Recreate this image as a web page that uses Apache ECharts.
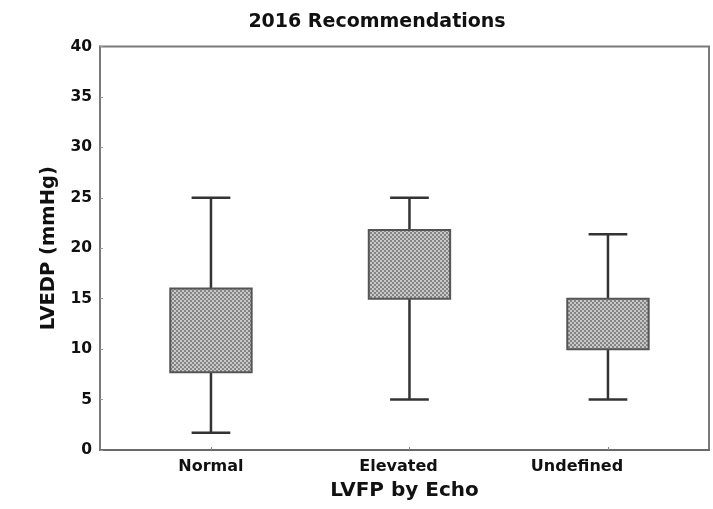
<!DOCTYPE html>
<html>
<head>
<meta charset="utf-8">
<script src="https://cdn.jsdelivr.net/npm/echarts@6/dist/echarts.min.js"></script>
<style>html,body{margin:0;padding:0;background:#fff}#c{width:713px;height:509px}</style>
</head>
<body>
<div id="c"></div>
<script>
// ---- data ----
const categories = ['Normal', 'Elevated', 'Undefined'];
const categoryPos = [1, 2, 3];
const whiskerLow = [1.7, 5, 5];
const q1 = [7.7, 15, 10];
const q3 = [16, 21.8, 15];
const whiskerHigh = [25, 25, 21.4];
const yTicks = [0, 5, 10, 15, 20, 25, 30, 35, 40];

// ---- style ----
const BOX_W = 0.41;   // in x-axis units
const CAP_W = 0.195;
const FONT = 'DejaVu Sans, Verdana, sans-serif';
const labelShiftPad = [0, 22, 62]; // right padding per label (shifts centered label left)

function makePattern() {
  const cv = document.createElement('canvas');
  cv.width = 4; cv.height = 4;
  const g = cv.getContext('2d');
  g.fillStyle = '#848484'; g.fillRect(0, 0, 4, 4);
  g.fillStyle = '#c8c8c8';
  g.fillRect(0, 0, 2, 2); g.fillRect(2, 2, 2, 2);
  return cv;
}
const pattern = { image: makePattern(), repeat: 'repeat' };

const data = categories.map((c, i) => [categoryPos[i], whiskerLow[i], q1[i], q3[i], whiskerHigh[i]]);

const rich = {};
categories.forEach((c, i) => {
  rich['c' + i] = { fontFamily: FONT, fontWeight: 'bold', fontSize: 16, color: '#111', padding: [0, labelShiftPad[i], 0, 0] };
});

const chart = echarts.init(document.getElementById('c'), null, { renderer: 'canvas' });
chart.setOption({
  animation: false,
  backgroundColor: '#fff',
  title: {
    text: '2016 Recommendations', left: 372, top: 8, textAlign: 'center',
    textStyle: { fontFamily: FONT, fontWeight: 'bold', fontSize: 19, color: '#111' }
  },
  grid: { left: 100, right: 4, top: 46.5, bottom: 59, show: true, borderColor: '#7a7a7a', borderWidth: 2 },
  xAxis: {
    type: 'value', min: 0.441, max: 3.509,
    name: 'LVFP by Echo', nameLocation: 'middle', nameGap: 31,
    nameTextStyle: { fontFamily: FONT, fontWeight: 'bold', fontSize: 20, color: '#111' },
    splitLine: { show: false },
    axisLine: { show: true, onZero: false, lineStyle: { color: '#6a6a6a', width: 2 } },
    axisTick: { show: true, inside: true, length: 3, customValues: categoryPos, lineStyle: { color: '#888' } },
    axisLabel: {
      customValues: categoryPos, margin: 9,
      formatter: v => {
        const i = categoryPos.indexOf(Math.round(v));
        return i < 0 ? '' : '{c' + i + '|' + categories[i] + '}';
      },
      rich: rich,
      fontFamily: FONT, fontWeight: 'bold', fontSize: 16, color: '#111'
    }
  },
  yAxis: {
    type: 'value', min: 0, max: 40, interval: 5,
    name: 'LVEDP (mmHg)', nameLocation: 'middle', nameGap: 41, nameRotate: 90,
    nameTextStyle: { fontFamily: FONT, fontWeight: 'bold', fontSize: 19.5, color: '#111' },
    splitLine: { show: false },
    axisLine: { show: true, lineStyle: { color: '#7a7a7a', width: 2 } },
    axisTick: { show: true, inside: true, length: 3, lineStyle: { color: '#999' } },
    axisLabel: {
      margin: 8, fontFamily: FONT, fontWeight: 'bold', fontSize: 15.5, color: '#111',
      formatter: v => yTicks.includes(v) ? String(v) : ''
    }
  },
  series: [{
    type: 'custom',
    data: data,
    encode: { x: 0, y: [1, 2, 3, 4] },
    renderItem: function (params, api) {
      const x = api.value(0);
      const pLow = api.coord([x, api.value(1)]);
      const pQ1 = api.coord([x, api.value(2)]);
      const pQ3 = api.coord([x, api.value(3)]);
      const pHigh = api.coord([x, api.value(4)]);
      const boxL = api.coord([x - BOX_W / 2, 0])[0];
      const boxR = api.coord([x + BOX_W / 2, 0])[0];
      const capL = api.coord([x - CAP_W / 2, 0])[0];
      const capR = api.coord([x + CAP_W / 2, 0])[0];
      const lineStyle = { stroke: '#333', lineWidth: 2.5 };
      return {
        type: 'group',
        children: [
          { type: 'line', shape: { x1: pHigh[0], y1: pHigh[1], x2: pQ3[0], y2: pQ3[1] }, style: lineStyle },
          { type: 'line', shape: { x1: pQ1[0], y1: pQ1[1], x2: pLow[0], y2: pLow[1] }, style: lineStyle },
          { type: 'line', shape: { x1: capL, y1: pHigh[1], x2: capR, y2: pHigh[1] }, style: lineStyle },
          { type: 'line', shape: { x1: capL, y1: pLow[1], x2: capR, y2: pLow[1] }, style: lineStyle },
          { type: 'rect', shape: { x: boxL, y: pQ3[1], width: boxR - boxL, height: pQ1[1] - pQ3[1] },
            style: { fill: pattern, stroke: '#555', lineWidth: 2 } }
        ]
      };
    }
  }]
});
</script>
</body>
</html>
